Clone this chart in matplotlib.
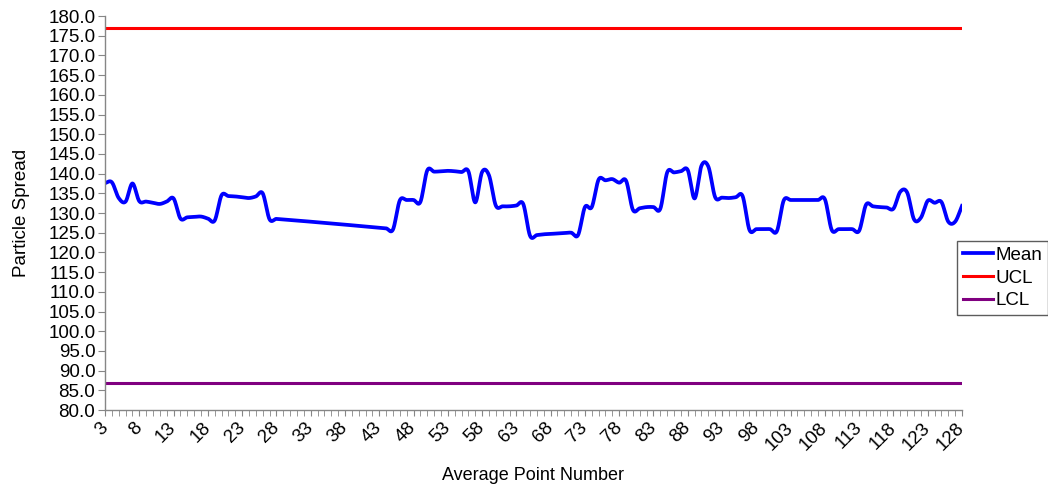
import numpy as np
import matplotlib as mpl
mpl.use("Agg")
import matplotlib.pyplot as plt

mpl.rcParams["font.family"] = ["Liberation Sans", "DejaVu Sans"]
mpl.rcParams["axes.spines.right"] = False
mpl.rcParams["axes.spines.top"] = False

# DATA (points 29-43 are absent; Excel just joins 28 to 44)
point_num = list(range(3, 29)) + list(range(44, 129))
mean_vals = [
    137.6, 137.8, 133.8, 132.9, 137.5, 133.0, 132.9, 132.6, 132.3, 132.9,
    133.7, 128.6, 128.9, 129.0, 129.1, 128.6, 128.1, 134.5, 134.3, 134.2,
    134.0, 133.8, 134.2, 135.0, 128.4, 128.5,
    # 44 ..
    126.1, 125.8, 133.2, 133.3, 133.3, 132.8, 140.8, 140.5, 140.6, 140.7,
    140.6, 140.4, 140.6, 132.7, 140.4, 139.6, 131.9, 131.7, 131.7, 131.9,
    132.3, 124.2, 124.4, 124.6, 124.7, 124.8, 124.9, 125.0, 124.4, 131.5,
    131.5, 138.5, 138.3, 138.6, 137.7, 138.2, 130.8, 131.2, 131.5, 131.5,
    131.1, 140.3, 140.3, 140.6, 140.9, 133.7, 142.0, 141.8, 134.0, 133.9,
    133.8, 134.0, 134.3, 125.7, 125.9, 125.9, 125.9, 125.4, 133.2, 133.3,
    133.3, 133.3, 133.3, 133.3, 133.5, 125.7, 125.9, 125.9, 125.9, 125.5,
    132.1, 131.7, 131.5, 131.4, 131.1, 135.4, 135.2, 128.4, 128.8, 133.1,
    132.6, 132.8, 127.8, 127.8, 131.8,
]
ucl = 177.0
lcl = 86.9
x_ticks = list(range(3, 129, 5))
y_ticks = list(range(80, 181, 5))


def smooth(x, y, steps=24):
    """Cubic bezier through the points, slopes from the neighbours (like Excel's smoothed line)"""
    x = np.asarray(x, float)
    y = np.asarray(y, float)
    n = len(x)
    m = np.zeros(n)
    m[1:-1] = (y[2:] - y[:-2]) / (x[2:] - x[:-2])
    m[0] = (y[1] - y[0]) / (x[1] - x[0])
    m[-1] = (y[-1] - y[-2]) / (x[-1] - x[-2])
    t = np.linspace(0, 1, steps, endpoint=False)
    xs, ys = [], []
    for i in range(n - 1):
        dx = x[i + 1] - x[i]
        c1x, c1y = x[i] + dx / 3, y[i] + m[i] * dx / 3
        c2x, c2y = x[i + 1] - dx / 3, y[i + 1] - m[i + 1] * dx / 3
        b0, b1, b2, b3 = (1 - t) ** 3, 3 * t * (1 - t) ** 2, 3 * t ** 2 * (1 - t), t ** 3
        xs.append(b0 * x[i] + b1 * c1x + b2 * c2x + b3 * x[i + 1])
        ys.append(b0 * y[i] + b1 * c1y + b2 * c2y + b3 * y[i + 1])
    xs.append([x[-1]])
    ys.append([y[-1]])
    return np.concatenate(xs), np.concatenate(ys)


fig = plt.figure(figsize=(10.48, 4.86), dpi=100)
ax = fig.add_axes([105 / 1048, 1 - 410 / 486, (962 - 105) / 1048, (410 - 16) / 486])

sx, sy = smooth(point_num, mean_vals)
ax.plot(sx, sy, color="#0000FF", lw=2.7, label="Mean", solid_joinstyle="round")
ax.plot([point_num[0], point_num[-1]], [ucl, ucl], color="#FF0000", lw=2.2, label="UCL")
ax.plot([point_num[0], point_num[-1]], [lcl, lcl], color="#800080", lw=2.2, label="LCL")

ax.set_xlim(3, 128)
ax.set_ylim(80, 180)
ax.set_yticks(y_ticks)
ax.set_yticklabels([f"{v:.1f}" for v in y_ticks])
ax.set_xticks(x_ticks)
ax.set_xticklabels([str(v) for v in x_ticks], rotation=45, ha="right", va="center",
                   rotation_mode="anchor")
ax.set_xticks(range(3, 129), minor=True)

for sp in ("left", "bottom"):
    ax.spines[sp].set_color("#868686")
    ax.spines[sp].set_linewidth(1.0)
ax.tick_params(axis="y", length=5, color="#868686", labelsize=13.5, pad=2)
ax.tick_params(axis="x", which="both", length=4, color="#868686", labelsize=13.5, pad=7)

ax.set_xlabel("Average Point Number", fontsize=13, labelpad=10)
ax.set_ylabel("Particle Spread", fontsize=13.5, labelpad=13)

fig.legend(loc="center left", bbox_to_anchor=(957 / 1048, 1 - 278 / 486),
           fontsize=13.5, frameon=True, fancybox=False, edgecolor="#333333",
           handlelength=1.6, handletextpad=0.15, borderpad=0.3, labelspacing=0.3,
           borderaxespad=0)

fig.savefig("out.png", dpi=100)
